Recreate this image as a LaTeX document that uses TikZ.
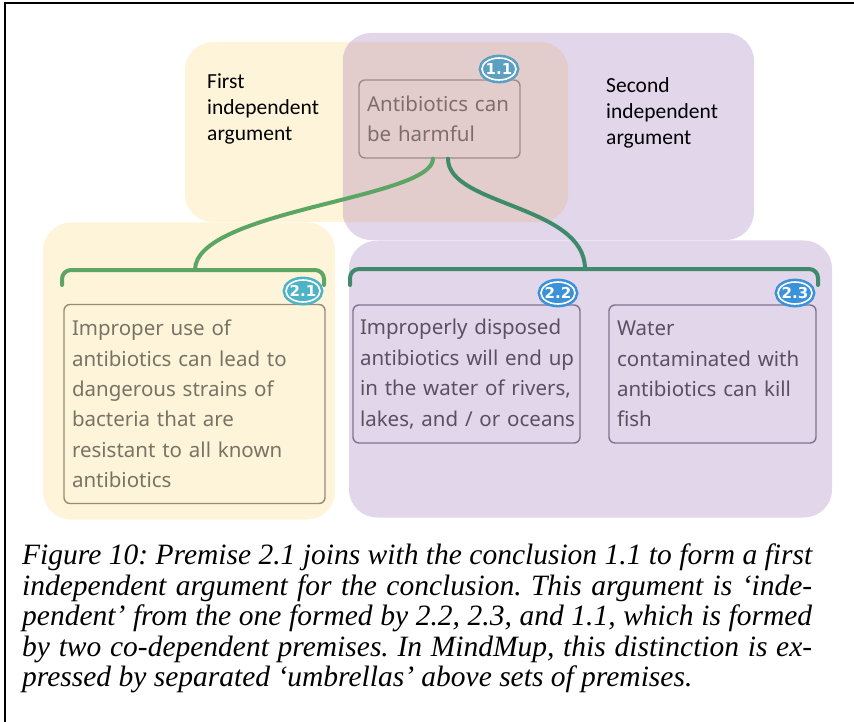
\documentclass[tikz,border=0pt]{standalone}
\usepackage{fontspec}
\newfontfamily\mmfont{Noto Sans}
\newfontfamily\badgefont{DejaVu Sans}
\newfontfamily\lblfont{Carlito}
\newfontfamily\capfont{Liberation Serif}
\usetikzlibrary{shapes,positioning}
\definecolor{yelgrp}{RGB}{253,244,217}
\definecolor{purgrp}{RGB}{226,214,235}
\definecolor{mixgrp}{RGB}{227,205,204}
\definecolor{umbA}{RGB}{92,165,100}
\definecolor{umbB}{RGB}{64,138,108}
\definecolor{badgeA}{RGB}{91,159,195}
\definecolor{badgeB}{RGB}{79,179,200}
\definecolor{badgeC}{RGB}{59,146,216}
\tikzset{group/.style={rectangle,inner sep=0pt,rounded corners=28pt}}
\tikzset{claim/.style={rectangle,draw,rounded corners=6pt,line width=1.4pt,inner xsep=8pt,inner ysep=0pt,align=left,font=\mmfont\fontsize{20.5}{30.4}\selectfont}}
\tikzset{badge/.style={ellipse,fill=#1,draw=#1,double=white,double distance=1.6pt,line width=2.6pt,minimum width=34pt,minimum height=22pt,inner sep=-1.5pt,text=white,font=\badgefont\bfseries\fontsize{15}{15}\selectfont}}
\tikzset{label/.style={anchor=north west,align=left,inner sep=0pt,font=\lblfont\fontsize{21.5}{26}\selectfont}}
\tikzset{umbrella/.style={draw,line width=4pt,line cap=round}}

\begin{document}
\begin{tikzpicture}[x=1pt,y=-1pt]
    \useasboundingbox (0,0) rectangle (854,722);
    \draw[line width=2pt] (854,3) -- (5,3) -- (5,722);

    % groups
    \node[group,fill=yelgrp,minimum width=383pt,minimum height=180pt] (g1) at (376.5,132) {};
    \node[group,fill=purgrp,minimum width=411pt,minimum height=207pt] (g2) at (548.5,136.5) {};
    \begin{scope}
        \clip[rounded corners=28pt] (g1.north west) rectangle (g1.south east);
        \fill[mixgrp,rounded corners=28pt] (g2.north west) rectangle (g2.south east);
    \end{scope}
    \node[group,fill=yelgrp,minimum width=292pt,minimum height=297pt] (g3) at (189,371) {};
    \node[group,fill=purgrp,minimum width=483pt,minimum height=277pt] (g4) at (590.5,379) {};

    \node[label] (l1) at (207,74) {First\\independent\\argument};
    \node[label] (l2) at (606,77) {Second\\independent\\argument};

    % claims
    \node[claim,draw={rgb,255:red,160;green,140;blue,140},text={rgb,255:red,125;green,110;blue,110},text width=145pt,minimum height=78pt] (c11) at (439.5,119) {Antibiotics can\\be harmful};
    \node[claim,draw={rgb,255:red,150;green,140;blue,120},text={rgb,255:red,120;green,115;blue,100},text width=245pt,minimum height=199pt] (c21) at (194.5,404) {Improper use of\\antibiotics can lead to\\dangerous strains of\\bacteria that are\\resistant to all known\\antibiotics};
    \node[claim,draw={rgb,255:red,130;green,115;blue,140},text={rgb,255:red,90;green,80;blue,100},inner xsep=7pt,text width=213pt,minimum height=138pt] (c22) at (466.5,374) {Improperly disposed\\\mbox{antibiotics will end up}\\in the water of rivers,\\\mbox{lakes, and / or oceans}};
    \node[claim,draw={rgb,255:red,130;green,115;blue,140},text={rgb,255:red,90;green,80;blue,100},text width=191pt,minimum height=138pt] (c23) at (712.5,374) {Water\\contaminated with\\antibiotics can kill\\fish};

    \node[badge=badgeA] (b11) at (499,69) {1.1};
    \node[badge=badgeB] (b21) at (303,291) {2.1};
    \node[badge=badgeC] (b22) at (558,293) {2.2};
    \node[badge=badgeC] (b23) at (795,293) {2.3};

    % umbrellas
    \coordinate (u1) at (195,270);
    \coordinate (u1l) at (62,285);
    \coordinate (u1r) at (324,285);
    \coordinate (u2) at (585,269);
    \coordinate (u2l) at (350,285);
    \coordinate (u2r) at (818,285);
        \path[umbrella,draw=umbA,rounded corners=9pt] (u1l) -- (u1l |- u1) -- (u1r |- u1) -- (u1r);
        \path[umbrella,draw=umbB,rounded corners=9pt] (u2l) -- (u2l |- u2) -- (u2r |- u2) -- (u2r);
        \path[umbrella,draw=umbA] ([xshift=-6.5pt]c11.south) .. controls +(0,40) and (195,210) .. (u1);
        \path[umbrella,draw=umbB] ([xshift=8.5pt]c11.south) .. controls +(0,47) and (585,205) .. (u2);

    \node[anchor=north west,inner sep=0pt,text width=790pt,align=justify,font=\capfont\itshape\fontsize{29.5}{30.5}\selectfont\frenchspacing] (cap) at (22,544) {Figure 10: Premise 2.1 joins with the conclusion 1.1 to form a first\linebreak independent argument for the conclusion. This argument is ‘inde-\linebreak pendent’ from the one formed by 2.2, 2.3, and 1.1, which is formed\linebreak by two co-dependent premises. In MindMup, this distinction is ex-\linebreak pressed by separated ‘umbrellas’ above sets of premises.};
  \end{tikzpicture}
\end{document}
